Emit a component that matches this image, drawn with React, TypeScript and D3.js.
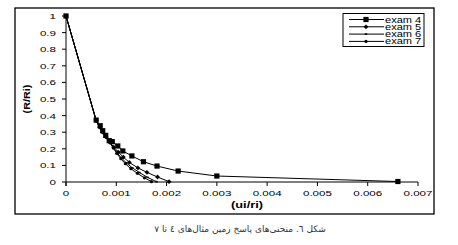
import React from "react";
import * as d3 from "d3";

const xTicks = [0, 0.001, 0.002, 0.003, 0.004, 0.005, 0.006, 0.007];
const yTicks = [0, 0.1, 0.2, 0.3, 0.4, 0.5, 0.6, 0.7, 0.8, 0.9, 1];
const xTickLabels = ["0", "0.001", "0.002", "0.003", "0.004", "0.005", "0.006", "0.007"];
const yTickLabels = ["0", "0.1", "0.2", "0.3", "0.4", "0.5", "0.6", "0.7", "0.8", "0.9", "1"];

const seriesNames = ["exam 4", "exam 5", "exam 6", "exam 7"];

const exam4X = [0, 0.0006, 0.00068, 0.00073, 0.00079, 0.00086, 0.00092, 0.00103, 0.00113, 0.00131, 0.00154, 0.00181, 0.00223, 0.003, 0.0066];
const exam4Y = [1, 0.373, 0.339, 0.309, 0.281, 0.249, 0.243, 0.217, 0.187, 0.157, 0.122, 0.096, 0.066, 0.036, 0.003];

const exam5X = [0, 0.0006, 0.00067, 0.00073, 0.0008, 0.00087, 0.00095, 0.00104, 0.00114, 0.00126, 0.00143, 0.00161, 0.00182, 0.00205];
const exam5Y = [1, 0.37, 0.33, 0.3, 0.27, 0.24, 0.21, 0.18, 0.15, 0.118, 0.085, 0.058, 0.03, 0.002];

const exam6X = [0, 0.0006, 0.00067, 0.00073, 0.0008, 0.00087, 0.00094, 0.00102, 0.0011, 0.0012, 0.00132, 0.00146, 0.00162, 0.0018];
const exam6Y = [1, 0.37, 0.33, 0.3, 0.27, 0.24, 0.205, 0.175, 0.145, 0.115, 0.085, 0.057, 0.028, 0.002];

const exam7X = [0, 0.0006, 0.00067, 0.00073, 0.0008, 0.00087, 0.00094, 0.00101, 0.00109, 0.00118, 0.00129, 0.00142, 0.00156, 0.0017];
const exam7Y = [1, 0.37, 0.33, 0.3, 0.27, 0.24, 0.205, 0.172, 0.14, 0.11, 0.08, 0.052, 0.025, 0.002];

const xTitle = "(ui/ri)";
const yTitle = "(R/Ri)";
const caption = "شکل ٦. منحنی‌های پاسخ زمین مثال‌های ٤ تا ٧";

const FONT = "'Liberation Sans', Arial, sans-serif";

function Marker({ kind, x, y }: { kind: number; x: number; y: number }) {
  if (kind === 0) return <rect x={x - 2.6} y={y - 2.6} width={5.2} height={5.2} fill="#000" />;
  if (kind === 1) return <path d={`M${x},${y - 2.4}L${x + 2.4},${y}L${x},${y + 2.4}L${x - 2.4},${y}Z`} fill="#000" />;
  if (kind === 2) return <rect x={x - 1.2} y={y - 0.8} width={2.4} height={1.6} fill="#000" />;
  return <circle cx={x} cy={y} r={1.6} fill="#000" />;
}

function SText({ x, y, anchor, size, bold, children, sx = 1.45, rotate = 0 }: any) {
  return (
    <text
      transform={`translate(${x},${y}) rotate(${rotate}) scale(${sx},1)`}
      textAnchor={anchor}
      fontSize={size}
      fontFamily={FONT}
      fontWeight={bold ? "bold" : "normal"}
      fill="#000"
    >
      {children}
    </text>
  );
}

export default function App() {
  const W = 458, H = 245;
  const x = d3.scaleLinear().domain([0, 0.007]).range([66, 418]);
  const y = d3.scaleLinear().domain([0, 1]).range([182, 16]);
  const line = d3.line<[number, number]>().x((d) => x(d[0])).y((d) => y(d[1]));
  const xs = [exam4X, exam5X, exam6X, exam7X];
  const ys = [exam4Y, exam5Y, exam6Y, exam7Y];
  const series = xs.map((arr, i) => arr.map((v, j) => [v, ys[i][j]] as [number, number]));

  return (
    <svg width={W} height={H} style={{ position: "absolute", left: 0, top: 0, background: "#fff" }}>
      <rect x={0} y={0} width={W} height={H} fill="#fff" />
      <rect x={15} y={8} width={419} height={206} fill="none" stroke="#000" strokeWidth={1.3} />
      {/* axes */}
      <line x1={x(0)} x2={x(0)} y1={y(1)} y2={y(0) + 4} stroke="#000" strokeWidth={1} />
      <line x1={x(0)} x2={x(0.007)} y1={y(0)} y2={y(0)} stroke="#000" strokeWidth={1} />
      {yTicks.map((t, i) => (
        <g key={"y" + i}>
          <line x1={x(0) - 4} x2={x(0)} y1={y(t)} y2={y(t)} stroke="#000" />
          <SText x={56} y={y(t) + 3} anchor="end" size={8}>{yTickLabels[i]}</SText>
        </g>
      ))}
      {xTicks.map((t, i) => (
        <g key={"x" + i}>
          <line x1={x(t)} x2={x(t)} y1={y(0)} y2={y(0) + 4} stroke="#000" />
          <SText x={x(t)} y={196} anchor="middle" size={8}>{xTickLabels[i]}</SText>
        </g>
      ))}
      <SText x={247} y={207.5} anchor="middle" size={9.5} bold sx={1.35}>{xTitle}</SText>
      <SText x={30} y={99} anchor="middle" size={9} bold rotate={-90} sx={1.2}>{yTitle}</SText>
      {/* series */}
      {series.map((pts, i) => (
        <g key={"s" + i}>
          <path d={line(pts) || ""} fill="none" stroke="#000" strokeWidth={1} />
          {pts.map((p, j) => (
            <Marker key={j} kind={i} x={x(p[0])} y={y(p[1])} />
          ))}
        </g>
      ))}
      {/* legend */}
      <rect x={343} y={13.5} width={81} height={33} fill="#fff" stroke="#000" strokeWidth={1} />
      {seriesNames.map((n, i) => {
        const ly = 19.5 + i * 7.3;
        return (
          <g key={"l" + i}>
            <line x1={349} x2={384} y1={ly} y2={ly} stroke="#000" strokeWidth={1} />
            <Marker kind={i} x={366} y={ly} />
            <SText x={385} y={ly + 3} anchor="start" size={8.5} sx={1.3}>{n}</SText>
          </g>
        );
      })}
      {/* caption */}
      <text x={240} y={232} textAnchor="middle" direction="rtl" fontSize={9} fontFamily="'DejaVu Sans', 'Noto Sans', sans-serif" fill="#333">
        {caption}
      </text>
    </svg>
  );
}
